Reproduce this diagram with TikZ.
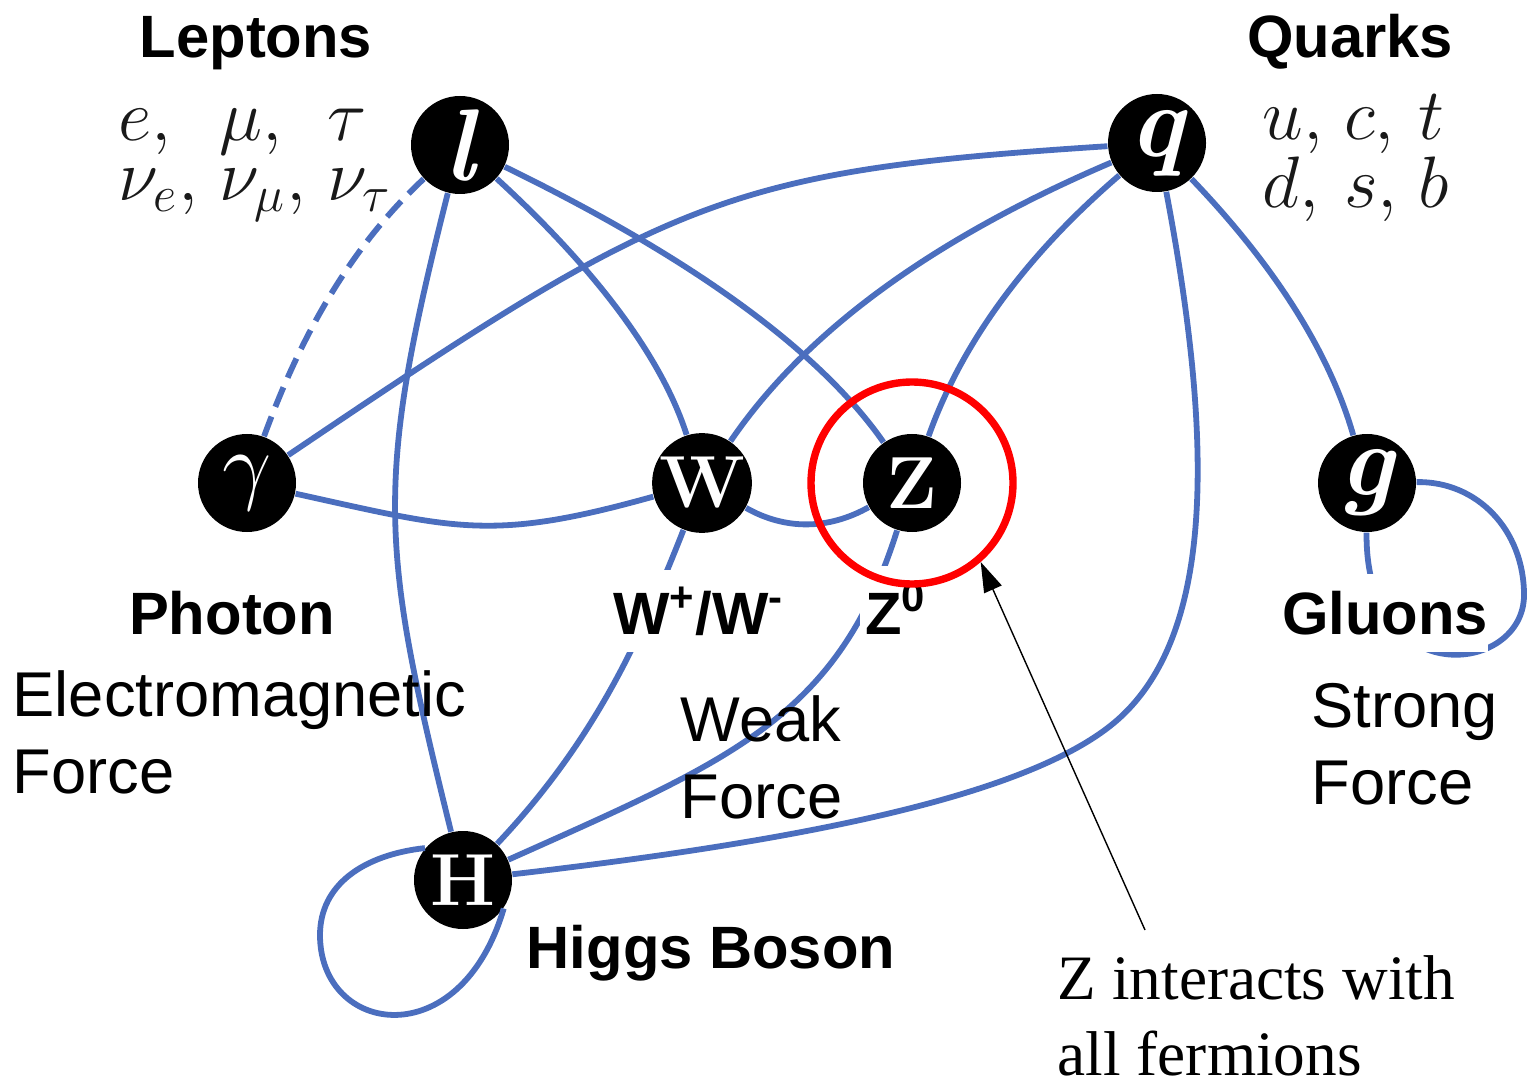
\documentclass[tikz,border=0pt]{standalone}
\usepackage{fontspec}
\newfontfamily\arialfont{Liberation Sans}
\newfontfamily\timesfont{Liberation Serif}
\usetikzlibrary{arrows.meta}
\definecolor{linkblue}{RGB}{75,110,190}

\begin{document}
\begin{tikzpicture}[
    particle/.style={circle, fill=black, text=white, inner sep=0pt, minimum size=0.98cm},
    bigit/.style={font=\fontsize{29}{29}\selectfont\bfseries\itshape},
    bigrm/.style={font=\fontsize{21}{21}\selectfont\bfseries},
    link/.style={linkblue, line width=1.65pt},
    dashlink/.style={link, dash pattern=on 6pt off 3pt},
    tag/.style={font=\arialfont\fontsize{17}{17}\selectfont\bfseries, fill=white, inner xsep=0.05cm, inner ysep=0.17cm, anchor=base},
    force/.style={font=\arialfont\fontsize{18}{21.8}\selectfont, align=left, anchor=north west, inner sep=0pt},
    flavours/.style={font=\fontsize{19.5}{17}\selectfont, text=black!90, anchor=west, inner sep=0pt},
    ring/.style={circle, draw=red, line width=2.1pt, minimum size=2.02cm, inner sep=0pt},
    pointer/.style={-{Triangle[length=0.3cm, width=0.19cm]}, line width=0.4pt}
]
    \useasboundingbox (0,0) rectangle (15.28,10.85);

    % --- particles ---
    \node[particle, bigit] (lep) at (4.60,9.40) {l};
    \node[particle, bigit] (qrk) at (11.57,9.42) {q};
    \node[particle, bigit] (pho) at (2.47,6.02) {$\gamma$};
    \node[particle, bigrm] (wbos) at (7.02,6.02) {W};
    \node[particle, bigrm] (zbos) at (9.12,6.02) {Z};
    \node[particle, bigit] (glu) at (13.67,6.02) {g};
    \node[particle, bigrm] (hig) at (4.63,2.05) {H};

    % --- couplings ---
    \draw[dashlink] (lep) .. controls (3.55,8.42) and (3.04,7.58) .. (pho);
    \draw[link] (lep) .. controls (3.74,6.00) and (3.80,5.40) .. (hig);
    \draw[link] (lep) .. controls (6.04,8.08) and (6.64,7.21) .. (wbos);
    \draw[link] (lep) .. controls (6.92,8.27) and (8.19,7.35) .. (zbos);
    \draw[link] (qrk) .. controls (7.25,9.14) and (6.70,8.88) .. (pho);
    \draw[link] (qrk) .. controls (9.32,8.46) and (8.05,7.53) .. (wbos);
    \draw[link] (qrk) .. controls (10.17,8.22) and (9.58,7.32) .. (zbos);
    \draw[link] (qrk) .. controls (12.74,8.20) and (13.29,7.34) .. (glu);
    \draw[link] (qrk) .. controls (12.14,6.41) and (12.15,4.48) .. (11.15,3.63)
                      .. controls (10.25,2.87) and (7.91,2.43) .. (hig);
    \draw[link] (pho) .. controls (4.56,5.56) and (4.91,5.43) .. (wbos);
    \draw[link] (wbos) .. controls (7.85,5.55) and (8.28,5.55) .. (zbos);
    \draw[link] (wbos) .. controls (6.40,4.45) and (5.95,3.45) .. (hig);
    \draw[link] (zbos) .. controls (8.38,3.67) and (7.31,3.25) .. (hig);

    % self couplings
    \draw[link] (glu) .. controls (14.77,6.04) and (15.24,5.55) .. (15.24,4.90)
                      .. controls (15.24,4.10) and (13.65,3.92) .. (glu);
    \draw[link] (hig.140) .. controls (3.63,2.30) and (3.20,2.00) .. (3.20,1.50)
                          .. controls (3.20,0.50) and (4.60,0.28) .. (hig.-35);

    % --- labels ---
    \node[tag] (leptons) at (2.56,10.27) {Leptons};
    \node[tag] (quarks) at (13.50,10.27) {Quarks};
    \node[tag] (photon) at (2.32,4.51) {Photon};
    \node[tag] (wlabel) at (6.99,4.51) {W\textsuperscript{+}/W\textsuperscript{-}};
    \node[tag] (zlabel) at (8.96,4.51) {Z\textsuperscript{0}};
    \node[tag, inner xsep=0pt] (gluons) at (13.85,4.51) {Gluons};
    \node[tag] (higgs) at (7.11,1.17) {Higgs Boson};

    \node[flavours] (leptonset) at (1.18,9.25)
        {$\begin{array}{@{}l@{\hspace{6pt}}l@{\hspace{6pt}}l@{}} e, & \mu, & \tau\\ \nu_e, & \nu_\mu, & \nu_\tau \end{array}$};
    \node[flavours] (quarkset) at (12.62,9.25)
        {$\begin{array}{@{}l@{\hspace{6pt}}l@{\hspace{6pt}}l@{}} u, & c, & t\\ d, & s, & b \end{array}$};

    % forces
    \node[force] (emforce) at (0.12,4.15) {Electromagnetic\\Force};
    \node[force] (weakforce) at (6.80,3.90) {Weak\\Force};
    \node[force] (strongforce) at (13.11,4.02) {Strong\\Force};

    % --- highlight on Z ---
    \node[ring] (zring) at (zbos) {};
    \node[force, font=\timesfont\fontsize{18}{21.5}\selectfont] (znote) at (10.57,1.30) {Z interacts with\\all fermions};
    \coordinate (ptail) at (11.45,1.55);
    \draw[pointer] (ptail) -- (zring.-49);
\end{tikzpicture}
\end{document}
